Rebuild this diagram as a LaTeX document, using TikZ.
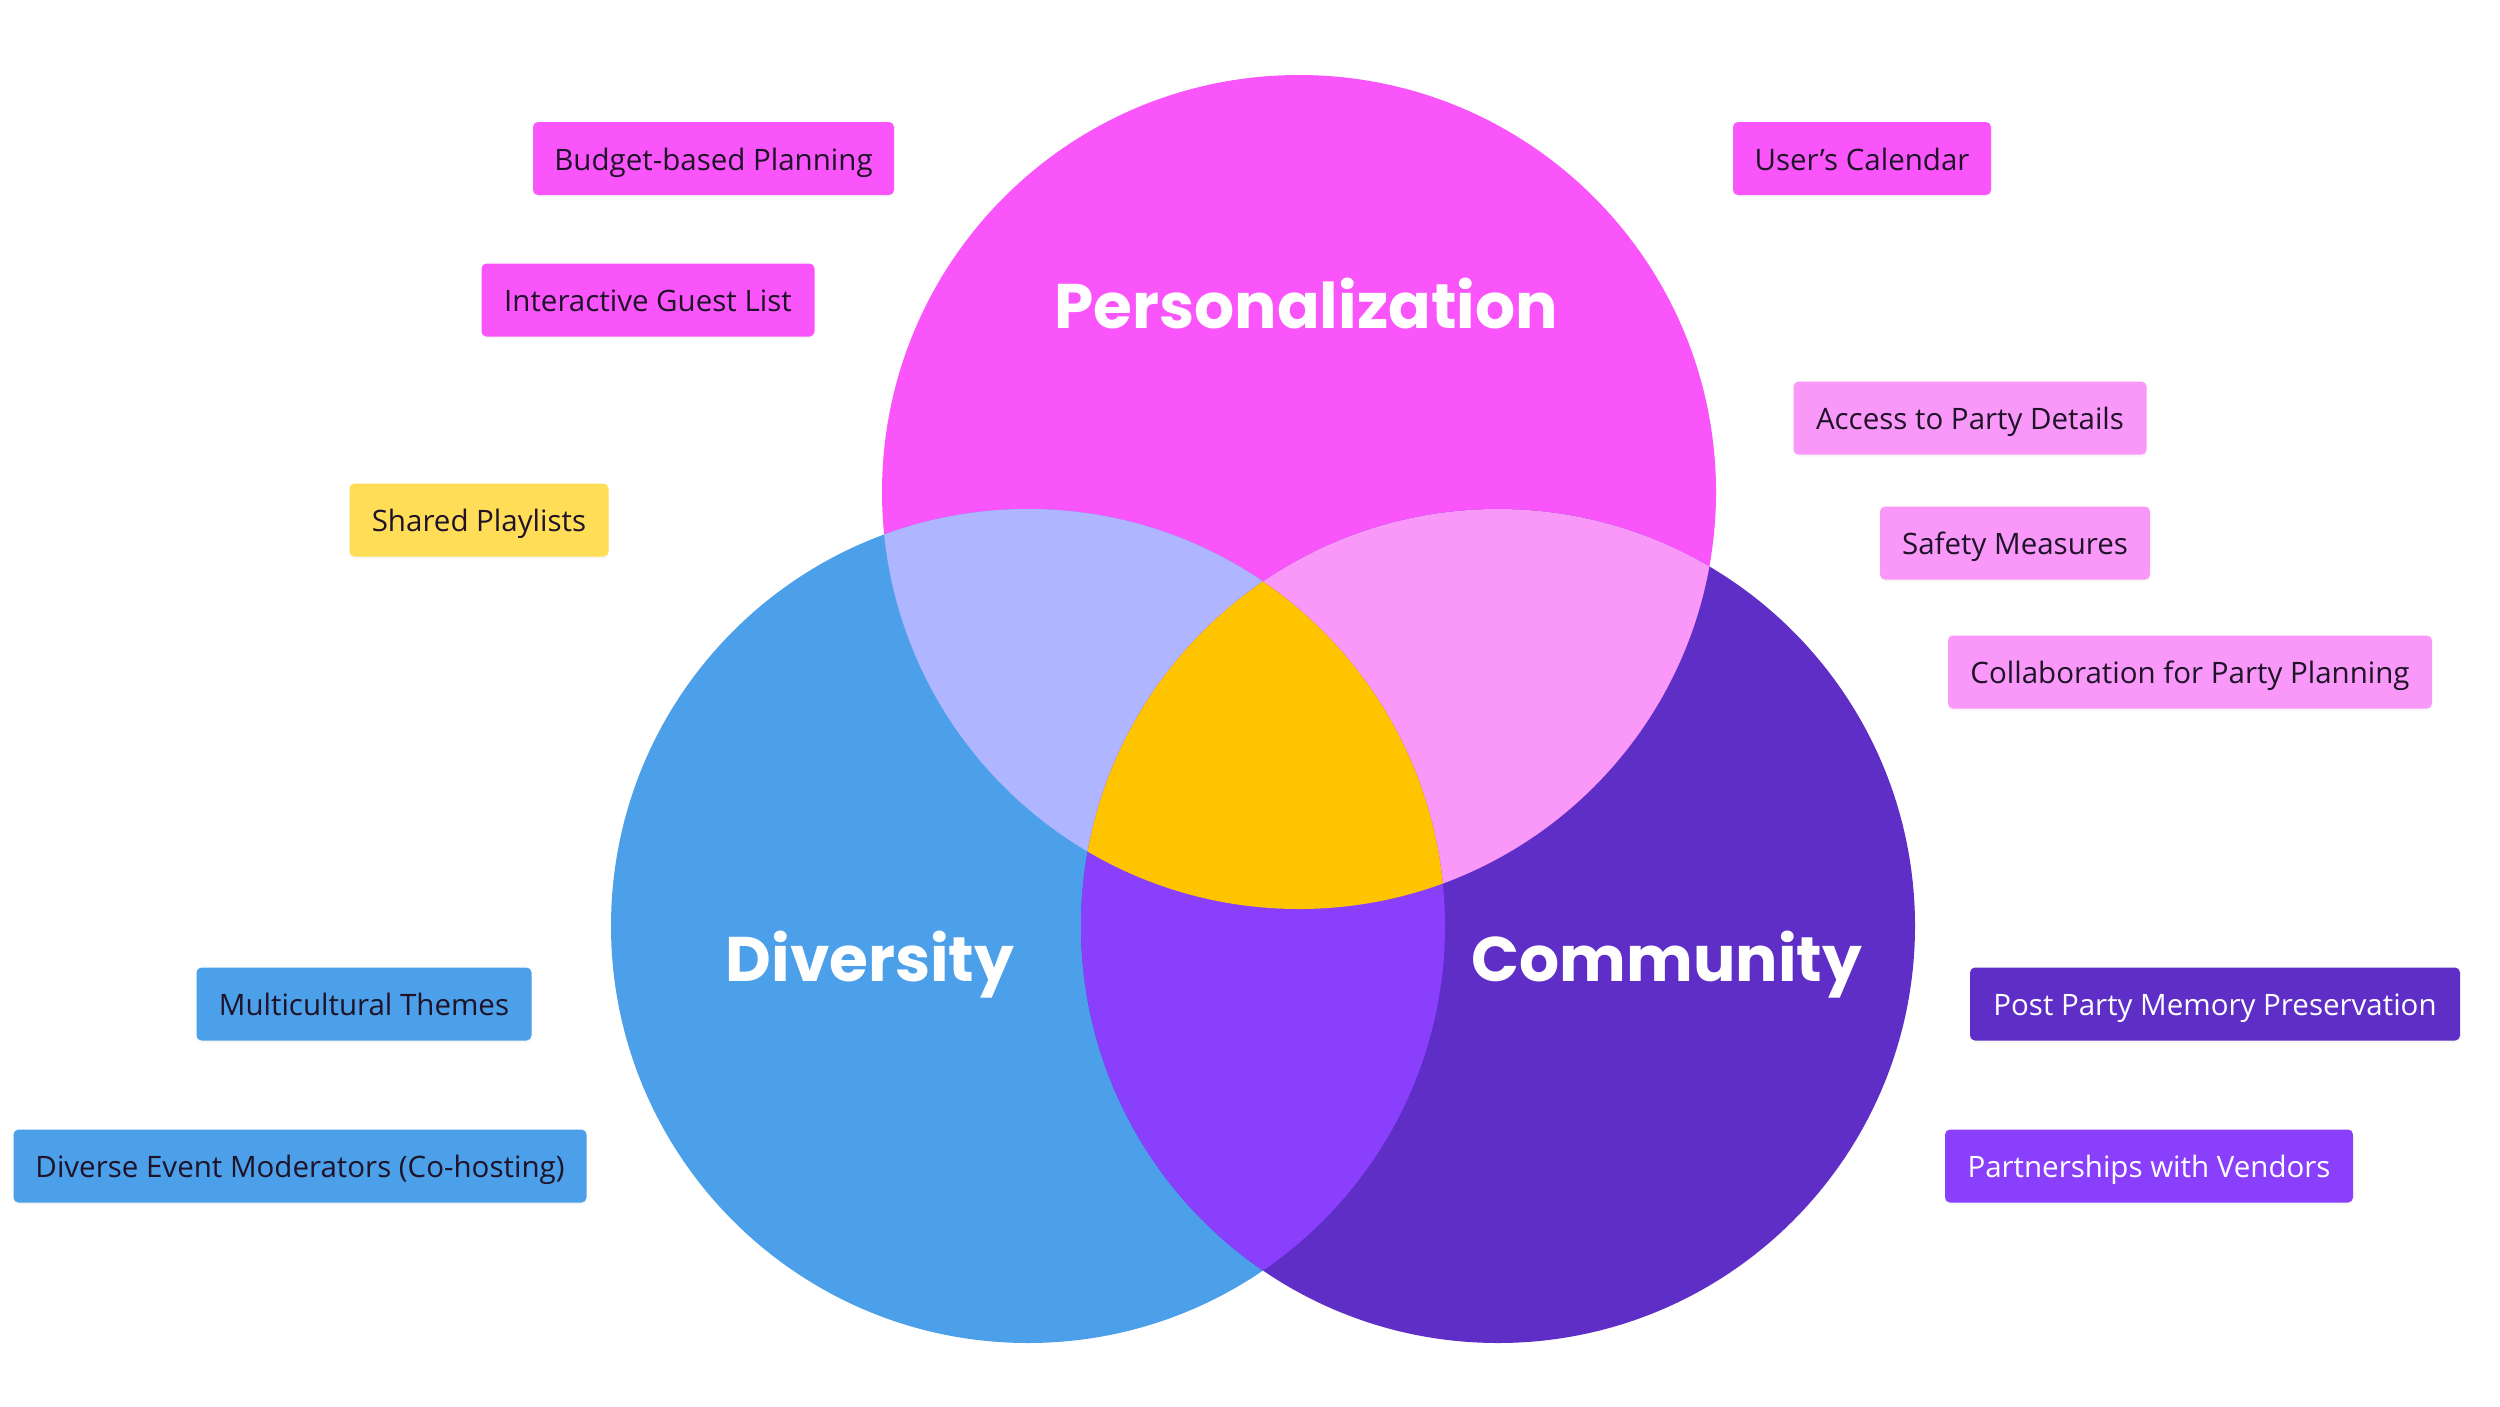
\documentclass[tikz,border=0pt]{standalone}
\usepackage{fontspec}
\setmainfont{Open Sans}
\newfontfamily\popfont{Poppins}[UprightFont=* Bold]
\usetikzlibrary{shadows}
\definecolor{cP}{HTML}{FA55FA}
\definecolor{cD}{HTML}{4C9FE9}
\definecolor{cC}{HTML}{5E2EC6}
\definecolor{cPD}{HTML}{AFB5FE}
\definecolor{cPC}{HTML}{FA98FA}
\definecolor{cDC}{HTML}{8A3FFC}
\definecolor{cPDC}{HTML}{FFC400}
\definecolor{cY}{HTML}{FFDD57}
\definecolor{txtdark}{HTML}{1E1328}
\tikzset{
  tag/.style={rounded corners=5pt, inner sep=0pt, minimum height=73pt, text height=23pt, text depth=0pt,
    font=\fontsize{29.5}{33}\selectfont, align=center,
    drop shadow={opacity=0.07, shadow xshift=0pt, shadow yshift=-2pt}},
  darktag/.style={tag, text=txtdark},
  lighttag/.style={tag, text=white},
  biglabel/.style={text=white, font=\popfont\fontsize{63}{68}\selectfont, anchor=base, inner sep=0pt},
}
\begin{document}
\begin{tikzpicture}[x=1pt,y=-1pt]
\useasboundingbox (0,0) rectangle (2500,1406);
\fill[white] (0,0) rectangle (2500,1406);
% centers
\coordinate (Pc) at (1299,492);
\coordinate (Dc) at (1028,926);
\coordinate (Cc) at (1498,926);
\def\R{417}
% circles
\fill[cP] (Pc) circle[radius=\R];
\fill[cD] (Dc) circle[radius=\R];
\fill[cC] (Cc) circle[radius=\R];
\begin{scope}
  \clip (Pc) circle[radius=\R];
  \fill[cPD] (Dc) circle[radius=\R];
  \fill[cPC] (Cc) circle[radius=\R];
\end{scope}
\begin{scope}
  \clip (Dc) circle[radius=\R];
  \fill[cDC] (Cc) circle[radius=\R];
  \clip (Cc) circle[radius=\R];
  \fill[cPDC] (Pc) circle[radius=\R];
\end{scope}
% labels
\node[biglabel] (lP) at (1306,328) {Personalization};
\node[biglabel] (lD) at (870,981) {Diversity};
\node[biglabel] (lC) at (1667,981) {Community};
% tags
\node[darktag, fill=cP, minimum width=361pt] (t1) at (713.5,158.5) {Budget-based Planning};
\node[darktag, fill=cP, minimum width=333pt] (t2) at (648,300) {Interactive Guest List};
\node[darktag, fill=cY, minimum width=259pt] (t3) at (479,520) {Shared Playlists};
\node[darktag, fill=cP, minimum width=258pt] (t4) at (1862,158.5) {User’s Calendar};
\node[darktag, fill=cPC, minimum width=353pt] (t5) at (1970,418) {Access to Party Details};
\node[darktag, fill=cPC, minimum width=270pt] (t6) at (2015,543) {Safety Measures};
\node[darktag, fill=cPC, minimum width=484pt] (t7) at (2190,672) {Collaboration for Party Planning};
\node[darktag, fill=cD, minimum width=335pt] (t8) at (364,1004) {Multicultural Themes};
\node[darktag, fill=cD, minimum width=573pt] (t9) at (300,1166) {Diverse Event Moderators (Co-hosting)};
\node[lighttag, fill=cC, minimum width=490pt] (t10) at (2215,1004) {Post Party Memory Preservation};
\node[lighttag, fill=cDC, minimum width=408pt] (t11) at (2149,1166) {Partnerships with Vendors};
\end{tikzpicture}
\end{document}
